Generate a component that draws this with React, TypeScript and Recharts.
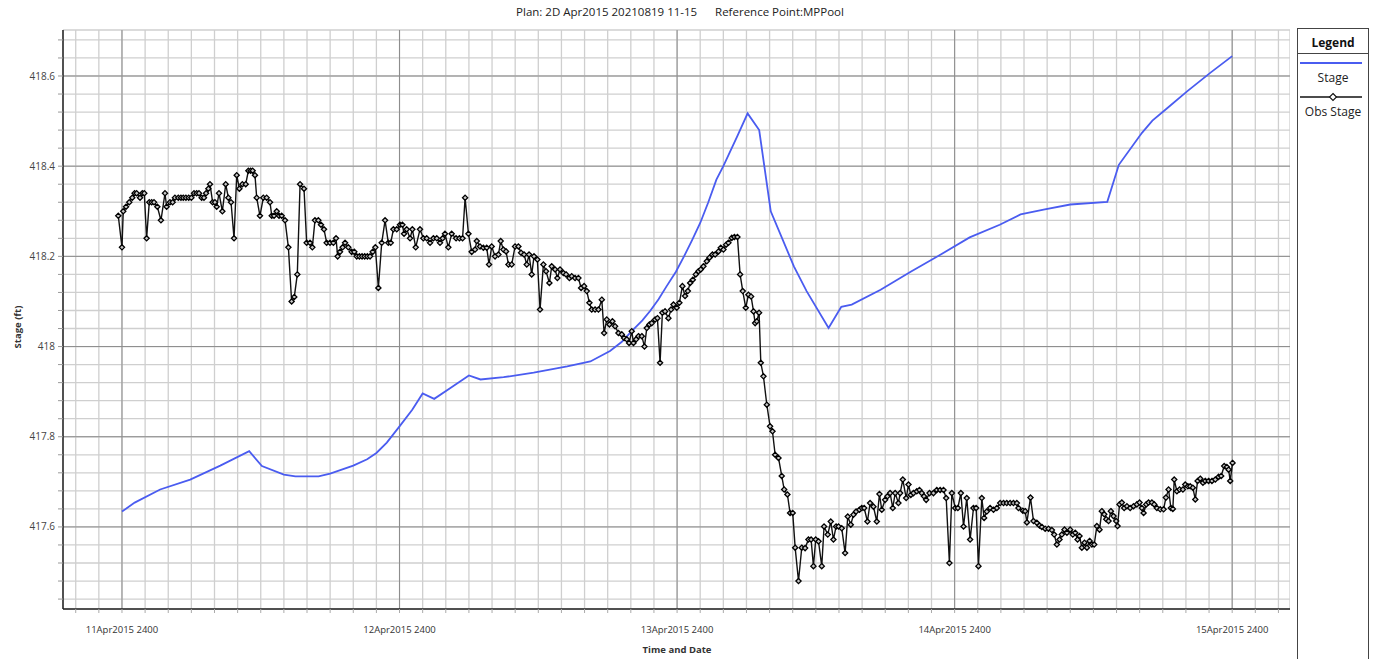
import React from 'react';
import { LineChart, Line, XAxis, YAxis, CartesianGrid, ReferenceLine } from 'recharts';

// hours after 11Apr2015 2400
const dayHours = [0, 24, 48, 72, 96];
const dayLabels = ['11Apr2015 2400', '12Apr2015 2400', '13Apr2015 2400', '14Apr2015 2400', '15Apr2015 2400'];
const majorStages = [417.6, 417.8, 418, 418.2, 418.4, 418.6];

// computed stage [hour, ft]
const stagePoints: [number, number][] = [
  [0, 417.634], [1.1, 417.654], [3.3, 417.683], [5.9, 417.705], [8.5, 417.736], [11.0, 417.768],
  [12.1, 417.735], [14.0, 417.716], [15.0, 417.712], [17.0, 417.712], [18.0, 417.718], [20.0, 417.736],
  [21.2, 417.75], [22.0, 417.764], [22.9, 417.787], [24.0, 417.823], [25.1, 417.86], [26.0, 417.896],
  [27.0, 417.884], [28.4, 417.908], [30.0, 417.936], [31.0, 417.927], [33.0, 417.932], [35.6, 417.942],
  [38.5, 417.956], [40.5, 417.967], [42.2, 417.99], [43.2, 418.01], [44.1, 418.035], [45.0, 418.058],
  [45.7, 418.08], [46.4, 418.105], [47.1, 418.134], [47.9, 418.166], [48.6, 418.2], [49.3, 418.236],
  [50.0, 418.274], [50.7, 418.32], [51.4, 418.37], [52.0, 418.4], [53.2, 418.466], [54.1, 418.517],
  [55.1, 418.48], [56.1, 418.3], [58.1, 418.178], [59.2, 418.123], [61.1, 418.041], [62.2, 418.088],
  [63.1, 418.093], [65.6, 418.126], [68.2, 418.166], [70.8, 418.204], [73.3, 418.242], [75.9, 418.27],
  [77.7, 418.293], [79.8, 418.304], [82.0, 418.315], [85.2, 418.321], [86.2, 418.403], [88.2, 418.474],
  [89.1, 418.501], [90.4, 418.529], [92.1, 418.566], [94.1, 418.607], [96.0, 418.644],
];

// observed stage [hour, ft]
const obsPoints: [number, number][] = [
  [-0.32, 418.29], [0.0, 418.22], [0.11, 418.3], [0.35, 418.31], [0.63, 418.32], [0.89, 418.33], [1.09, 418.34],
  [1.27, 418.34], [1.56, 418.33], [1.76, 418.34], [1.93, 418.34], [2.13, 418.24], [2.36, 418.32], [2.57, 418.32],
  [2.77, 418.32], [3.06, 418.31], [3.37, 418.28], [3.72, 418.34], [3.86, 418.31], [4.15, 418.32], [4.38, 418.32],
  [4.58, 418.33], [4.87, 418.33], [5.1, 418.33], [5.3, 418.33], [5.53, 418.33], [5.77, 418.33], [6.0, 418.33],
  [6.23, 418.34], [6.46, 418.34], [6.66, 418.34], [6.89, 418.33], [7.09, 418.33], [7.27, 418.34], [7.47, 418.35],
  [7.61, 418.36], [7.84, 418.32], [8.04, 418.32], [8.19, 418.31], [8.39, 418.34], [8.68, 418.3], [8.97, 418.36],
  [9.2, 418.33], [9.43, 418.32], [9.69, 418.24], [9.92, 418.38], [10.15, 418.35], [10.41, 418.36], [10.7, 418.36],
  [10.93, 418.39], [11.13, 418.39], [11.3, 418.39], [11.5, 418.38], [11.65, 418.33], [11.93, 418.29], [12.22, 418.33],
  [12.51, 418.33], [12.8, 418.32], [12.95, 418.29], [13.15, 418.29], [13.38, 418.3], [13.58, 418.29], [13.81, 418.29],
  [14.1, 418.28], [14.39, 418.22], [14.67, 418.1], [14.9, 418.11], [15.16, 418.16], [15.4, 418.36], [15.74, 418.35],
  [15.97, 418.23], [16.26, 418.23], [16.46, 418.22], [16.69, 418.28], [16.98, 418.28], [17.21, 418.27], [17.47, 418.26],
  [17.7, 418.23], [17.99, 418.23], [18.28, 418.23], [18.51, 418.24], [18.65, 418.2], [18.85, 418.21], [19.08, 418.22],
  [19.29, 418.23], [19.57, 418.22], [19.86, 418.21], [20.09, 418.21], [20.3, 418.2], [20.53, 418.2], [20.76, 418.2],
  [20.99, 418.2], [21.22, 418.2], [21.45, 418.2], [21.68, 418.21], [21.91, 418.22], [22.17, 418.13], [22.46, 418.23],
  [22.75, 418.28], [23.03, 418.23], [23.24, 418.23], [23.47, 418.26], [23.76, 418.26], [24.04, 418.27], [24.25, 418.27],
  [24.39, 418.25], [24.62, 418.26], [24.91, 418.24], [25.11, 418.26], [25.4, 418.22], [25.77, 418.26], [26.06, 418.24],
  [26.35, 418.24], [26.64, 418.23], [26.93, 418.24], [27.22, 418.24], [27.5, 418.23], [27.73, 418.24], [27.93, 418.25],
  [28.22, 418.22], [28.51, 418.25], [28.89, 418.24], [29.18, 418.24], [29.45, 418.24], [29.67, 418.33], [29.96, 418.25],
  [30.24, 418.21], [30.53, 418.215], [30.68, 418.234], [30.96, 418.222], [31.25, 418.219], [31.54, 418.219], [31.74, 418.182],
  [31.97, 418.222], [32.26, 418.2], [32.55, 418.204], [32.75, 418.234], [32.98, 418.215], [33.21, 418.211], [33.42, 418.182],
  [33.7, 418.182], [33.99, 418.222], [34.28, 418.222], [34.51, 418.208], [34.77, 418.204], [35.0, 418.182], [35.2, 418.204],
  [35.43, 418.16], [35.63, 418.2], [35.92, 418.193], [36.15, 418.082], [36.44, 418.182], [36.67, 418.167], [36.96, 418.141],
  [37.16, 418.178], [37.45, 418.171], [37.65, 418.152], [37.88, 418.171], [38.17, 418.163], [38.4, 418.16], [38.69, 418.152],
  [38.89, 418.156], [39.18, 418.152], [39.47, 418.152], [39.7, 418.13], [39.96, 418.134], [40.19, 418.123], [40.42, 418.097],
  [40.62, 418.082], [40.91, 418.082], [41.2, 418.082], [41.49, 418.104], [41.69, 418.03], [41.92, 418.06], [42.15, 418.049],
  [42.41, 418.056], [42.64, 418.045], [42.93, 418.03], [43.22, 418.027], [43.42, 418.019], [43.65, 418.016], [43.85, 418.008],
  [44.08, 418.034], [44.23, 418.008], [44.46, 418.016], [44.66, 418.023], [44.95, 418.023], [45.18, 418.0], [45.38, 418.041],
  [45.61, 418.049], [45.81, 418.052], [46.1, 418.06], [46.3, 418.063], [46.53, 417.964], [46.73, 418.075], [46.96, 418.078],
  [47.25, 418.063], [47.48, 418.082], [47.69, 418.093], [47.97, 418.086], [48.2, 418.097], [48.46, 418.134], [48.69, 418.112],
  [48.93, 418.123], [49.13, 418.141], [49.36, 418.148], [49.62, 418.16], [49.85, 418.167], [50.05, 418.171], [50.28, 418.178],
  [50.57, 418.189], [50.8, 418.197], [51.06, 418.204], [51.29, 418.204], [51.58, 418.211], [51.78, 418.219], [52.01, 418.215],
  [52.24, 418.226], [52.44, 418.23], [52.73, 418.241], [52.96, 418.243], [53.22, 418.243], [53.45, 418.16], [53.68, 418.123],
  [53.94, 418.086], [54.17, 418.115], [54.4, 418.111], [54.61, 418.078], [54.75, 418.052], [54.89, 418.056], [55.09, 418.075],
  [55.24, 417.964], [55.47, 417.934], [55.76, 417.871], [56.04, 417.823], [56.25, 417.812], [56.48, 417.76], [56.77, 417.753],
  [57.05, 417.713], [57.26, 417.683], [57.54, 417.672], [57.77, 417.631], [58.0, 417.631], [58.21, 417.554], [58.5, 417.48],
  [58.78, 417.554], [59.07, 417.553], [59.36, 417.572], [59.59, 417.572], [59.79, 417.513], [59.99, 417.572], [60.23, 417.568],
  [60.51, 417.513], [60.71, 417.601], [61.03, 417.583], [61.29, 417.612], [61.52, 417.572], [61.75, 417.601], [61.96, 417.601],
  [62.24, 417.597], [62.53, 417.542], [62.76, 417.623], [63.02, 417.605], [63.25, 417.627], [63.48, 417.634], [63.77, 417.638],
  [63.97, 417.642], [64.18, 417.642], [64.46, 417.612], [64.69, 417.653], [64.98, 417.645], [65.27, 417.612], [65.5, 417.673],
  [65.7, 417.638], [65.99, 417.66], [66.19, 417.668], [66.42, 417.675], [66.65, 417.642], [66.86, 417.675], [67.14, 417.653],
  [67.29, 417.675], [67.52, 417.705], [67.81, 417.664], [68.01, 417.694], [68.21, 417.671], [68.44, 417.675], [68.73, 417.679],
  [68.96, 417.682], [69.16, 417.675], [69.35, 417.668], [69.54, 417.66], [69.83, 417.675], [70.17, 417.675], [70.46, 417.682],
  [70.75, 417.682], [71.04, 417.682], [71.27, 417.664], [71.55, 417.52], [71.76, 417.675], [72.05, 417.642], [72.28, 417.642],
  [72.54, 417.675], [72.77, 417.601], [73.05, 417.664], [73.34, 417.572], [73.63, 417.642], [73.86, 417.642], [74.06, 417.513],
  [74.35, 417.664], [74.55, 417.62], [74.78, 417.634], [75.07, 417.642], [75.36, 417.638], [75.65, 417.642], [75.94, 417.653],
  [76.23, 417.653], [76.51, 417.653], [76.8, 417.653], [77.09, 417.653], [77.38, 417.653], [77.52, 417.642], [77.9, 417.636],
  [78.1, 417.635], [78.25, 417.61], [78.56, 417.665], [78.82, 417.613], [79.11, 417.609], [79.34, 417.603], [79.54, 417.6],
  [79.83, 417.596], [80.12, 417.596], [80.41, 417.593], [80.61, 417.583], [80.84, 417.561], [81.07, 417.572], [81.27, 417.583],
  [81.5, 417.594], [81.71, 417.587], [81.99, 417.594], [82.22, 417.583], [82.43, 417.587], [82.63, 417.572], [82.8, 417.58],
  [83.0, 417.554], [83.23, 417.565], [83.44, 417.554], [83.67, 417.569], [83.87, 417.561], [84.07, 417.561], [84.3, 417.602],
  [84.53, 417.594], [84.73, 417.635], [84.94, 417.628], [85.11, 417.617], [85.31, 417.613], [85.51, 417.635], [85.74, 417.624],
  [85.97, 417.613], [86.09, 417.602], [86.26, 417.65], [86.46, 417.654], [86.66, 417.642], [86.9, 417.646], [87.18, 417.642],
  [87.47, 417.646], [87.76, 417.65], [87.99, 417.654], [88.19, 417.642], [88.34, 417.631], [88.57, 417.65], [88.77, 417.654],
  [89.06, 417.654], [89.26, 417.65], [89.49, 417.642], [89.78, 417.639], [90.07, 417.639], [90.27, 417.665], [90.5, 417.683],
  [90.7, 417.642], [90.87, 417.64], [90.99, 417.705], [91.22, 417.679], [91.45, 417.683], [91.74, 417.683], [91.94, 417.694],
  [92.17, 417.69], [92.37, 417.69], [92.6, 417.687], [92.81, 417.661], [93.01, 417.702], [93.24, 417.707], [93.47, 417.698],
  [93.67, 417.702], [93.96, 417.702], [94.25, 417.702], [94.54, 417.705], [94.82, 417.711], [95.05, 417.713], [95.31, 417.735],
  [95.54, 417.733], [95.69, 417.727], [95.83, 417.702], [96.03, 417.742],
];

const stageData = stagePoints.map(([h, v]) => ({ h, v }));
const obsData = obsPoints.map(([h, v]) => ({ h, v }));

// grid every 2 hours / every 0.04 ft
const xTicks = Array.from({ length: 53 }, (_, i) => -4 + i * 2);
const yTicks = Array.from({ length: 32 }, (_, i) => Math.round((417.44 + i * 0.04) * 100) / 100);

const FONT = '"Open Sans", "Noto Sans", sans-serif';

const xLabel = (v: number) => {
  const idx = dayHours.indexOf(v);
  return idx >= 0 ? dayLabels[idx] : '';
};
const yLabel = (v: number) => (majorStages.some(m => Math.abs(m - v) < 1e-6) ? String(v) : '');

const ObsDot = (props: any) => {
  const { cx, cy, index } = props;
  if (cx == null || cy == null) return <g key={`d-${index}`} />;
  const r = 2.6;
  return (
    <path
      key={`d-${index}`}
      d={`M${cx},${cy - r}L${cx + r},${cy}L${cx},${cy + r}L${cx - r},${cy}Z`}
      fill="#c8c8c8"
      stroke="#000"
      strokeWidth={1.3}
    />
  );
};

export default function App() {
  return (
    <div style={{ position: 'absolute', left: 0, top: 0, width: 1376, height: 659, background: '#fff', fontFamily: FONT, overflow: 'hidden' }}>
      <div style={{ position: 'absolute', left: 0, top: 4, width: 1360, textAlign: 'center', fontSize: 11.5, color: '#222', whiteSpace: 'pre' }}>
        {'Plan: 2D Apr2015 20210819 11-15      Reference Point:MPPool'}
      </div>

      <LineChart width={1290} height={659} margin={{ top: 30, right: 0, bottom: 10, left: 0 }}>
        <CartesianGrid stroke="#cfcfcf" strokeWidth={1.3} />
        <XAxis
          dataKey="h"
          type="number"
          domain={[-5.1, 101]}
          ticks={xTicks}
          interval={0}
          allowDataOverflow
          tickFormatter={xLabel}
          tick={{ fontSize: 9.5, fill: '#333', fontFamily: FONT }}
          tickSize={4}
          tickMargin={13}
          tickLine={{ stroke: '#aaa' }}
          axisLine={{ stroke: '#222', strokeWidth: 1.5 }}
          height={40}
        />
        <YAxis
          type="number"
          domain={[417.418, 418.702]}
          ticks={yTicks}
          interval={0}
          allowDataOverflow
          tickFormatter={yLabel}
          tick={{ fontSize: 10, fill: '#444', fontFamily: FONT }}
          tickSize={5}
          tickMargin={3}
          tickLine={{ stroke: '#999' }}
          axisLine={{ stroke: '#222', strokeWidth: 1.5 }}
          width={63}
        />
        {dayHours.map(d => (
          <ReferenceLine key={`vx-${d}`} x={d} stroke="#8c8c8c" strokeWidth={1} />
        ))}
        {majorStages.map(s => (
          <ReferenceLine key={`hy-${s}`} y={s} stroke="#8c8c8c" strokeWidth={1} />
        ))}
        <Line
          data={stageData}
          dataKey="v"
          type="linear"
          stroke="#4a5cf0"
          strokeWidth={1.8}
          dot={false}
          isAnimationActive={false}
          name="Stage"
        />
        <Line
          data={obsData}
          dataKey="v"
          type="linear"
          stroke="#111"
          strokeWidth={1.4}
          dot={ObsDot}
          isAnimationActive={false}
          name="Obs Stage"
        />
      </LineChart>

      <div style={{ position: 'absolute', left: 3, top: 327, transform: 'translate(-50%, -50%) rotate(-90deg)', marginLeft: 14, fontSize: 9.5, fontWeight: 700, color: '#333', whiteSpace: 'nowrap' }}>
        Stage (ft)
      </div>
      <div style={{ position: 'absolute', left: 677, top: 643, transform: 'translateX(-50%)', fontSize: 9.5, fontWeight: 700, color: '#333', whiteSpace: 'nowrap' }}>
        Time and Date
      </div>

      <svg style={{ position: 'absolute', left: 1297, top: 28 }} width={72} height={631}>
        <rect x={0.5} y={0.5} width={71} height={640} fill="#fff" stroke="#444" />
        <text x={36} y={19} textAnchor="middle" fontSize={12} fontWeight={700} fill="#111" fontFamily={FONT}>Legend</text>
        <line x1={0} y1={25.5} x2={72} y2={25.5} stroke="#444" />
        <line x1={3} y1={35} x2={65} y2={35} stroke="#4a5cf0" strokeWidth={1.8} />
        <text x={36} y={54} textAnchor="middle" fontSize={12} fill="#222" fontFamily={FONT}>Stage</text>
        <line x1={3} y1={69} x2={65} y2={69} stroke="#111" strokeWidth={1.3} />
        <path d="M36,65.5L39.5,69L36,72.5L32.5,69Z" fill="#fff" stroke="#111" strokeWidth={1.1} />
        <text x={36} y={88} textAnchor="middle" fontSize={12} fill="#222" fontFamily={FONT}>Obs Stage</text>
      </svg>
    </div>
  );
}
